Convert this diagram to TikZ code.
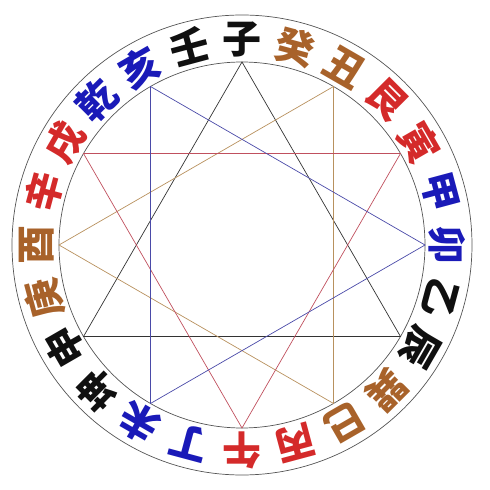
\documentclass[tikz,border=0pt]{standalone}
\usepackage{fontspec}
\newfontfamily\cjk{Noto Sans CJK SC}
\definecolor{tblack}{HTML}{101010}
\definecolor{tbrown}{HTML}{A8622A}
\definecolor{tred}{HTML}{D42A2A}
\definecolor{tblue}{HTML}{1A1AB8}
\definecolor{lblack}{HTML}{333333}
\definecolor{lbrown}{HTML}{B8915E}
\definecolor{lred}{HTML}{C0505E}
\definecolor{lblue}{HTML}{4A4AA8}
\definecolor{lring}{HTML}{555555}
\tikzset{
  ringline/.style={draw=lring, line width=0.7pt},
  mtn/.style={inner sep=0pt, font=\cjk\bfseries\fontsize{39}{39}\selectfont},
  triline/.style={line width=0.7pt, line join=miter}
}
\begin{document}
\begin{tikzpicture}[x=1pt,y=1pt]
\useasboundingbox (0,0) rectangle (490,490);
\coordinate (O) at (242,245);
\draw[ringline] (O) circle (230);
\draw[ringline] (O) circle (183);
\foreach \k in {0,...,11} {
  \coordinate (v\k) at ([shift={(O)}]{90-30*\k}:183);
}
\draw[triline, draw=lblack] (v0) -- (v4) -- (v8) -- cycle;
\draw[triline, draw=lbrown] (v1) -- (v5) -- (v9) -- cycle;
\draw[triline, draw=lred] (v2) -- (v6) -- (v10) -- cycle;
\draw[triline, draw=lblue] (v3) -- (v7) -- (v11) -- cycle;
\foreach \k/\ch/\col in {0/子/tblack, 1/癸/tbrown, 2/丑/tbrown, 3/艮/tred, 4/寅/tred, 5/甲/tblue, 6/卯/tblue, 7/乙/tblack, 8/辰/tblack, 9/巽/tbrown, 10/巳/tbrown, 11/丙/tred, 12/午/tred, 13/丁/tblue, 14/未/tblue, 15/坤/tblack, 16/申/tblack, 17/庚/tbrown, 18/酉/tbrown, 19/辛/tred, 20/戌/tred, 21/乾/tblue, 22/亥/tblue, 23/壬/tblack} {
  \node[mtn, text=\col, rotate=-15*\k] (m\k) at ([shift={(O)}]{90-15*\k}:205) {\ch};
}
\end{tikzpicture}
\end{document}
